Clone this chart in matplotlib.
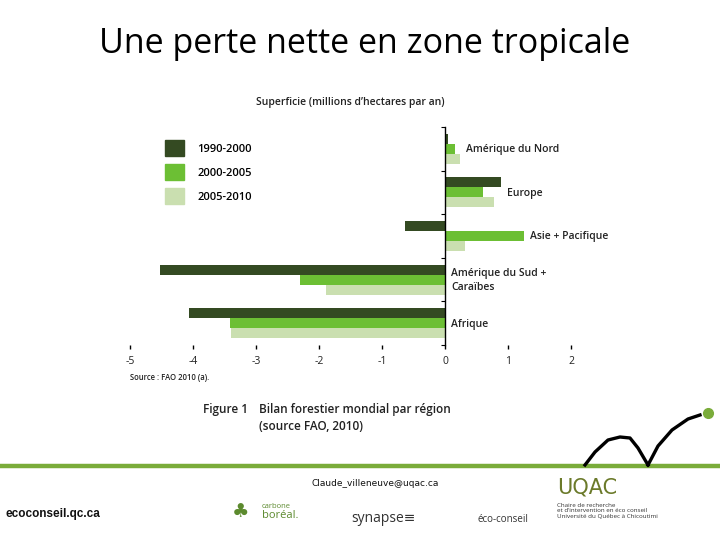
import matplotlib.pyplot as plt
from matplotlib.patches import Patch
import numpy as np

regions = ['Amérique du Nord', 'Europe', 'Asie + Pacifique',
           'Amérique du Sud +\nCaraïbes', 'Afrique']
periods = ['1990-2000', '2000-2005', '2005-2010']
v_1990_2000 = [0.05, 0.89, -0.64, -4.52, -4.06]
v_2000_2005 = [0.16, 0.60, 1.25, -2.30, -3.41]
v_2005_2010 = [0.24, 0.78, 0.31, -1.89, -3.39]
colors = ['#344a22', '#6cbf34', '#cadfb0']
xticks = [-5, -4, -3, -2, -1, 0, 1, 2]

plt.rcParams['font.family'] = ['Open Sans', 'DejaVu Sans']

fig = plt.figure(figsize=(7.2, 5.4), dpi=100)
W, H = 720, 540

def fx(px):
    return px / W

def fy(py):
    return 1 - py / H

# slide title
fig.text(fx(365), fy(44), 'Une perte nette en zone tropicale', ha='center', va='center',
         fontsize=24.5, color='black')

# chart
ax = fig.add_axes([fx(130), fy(345), fx(441), (345 - 127) / H])
series = [v_1990_2000, v_2000_2005, v_2005_2010]
n = len(regions)
centers = np.arange(n) + 0.5
h = 0.23
for k, vals in enumerate(series):
    ax.barh(centers + (k - 1) * h, vals, height=h, color=colors[k], label=periods[k])

for i, lab in enumerate(regions):
    xmax = max(0, v_1990_2000[i], v_2000_2005[i], v_2005_2010[i])
    ax.text(xmax + 0.1, centers[i] + 0.02, lab, ha='left', va='center',
            fontsize=7.5, fontweight='semibold', color='#222222', linespacing=1.3)

ax.set_xlim(-5, 2)
ax.set_ylim(n, 0)
ax.set_xticks(xticks)
ax.set_xticklabels([str(t) for t in xticks], fontsize=7.5, color='#222222')
ax.set_yticks(np.arange(n + 1))
ax.set_yticklabels([])
for s in ['top', 'right', 'bottom']:
    ax.spines[s].set_visible(False)
ax.spines['left'].set_position(('data', 0))
ax.spines['left'].set_linewidth(1.0)
ax.tick_params(axis='x', length=3, width=1, pad=5, direction='out')
ax.tick_params(axis='y', length=3, width=0.8, direction='out')

fig.text(fx(350), fy(103), 'Superficie (millions d\u2019hectares par an)', ha='center',
         va='center', fontsize=7.5, fontweight='semibold', color='#222222')

handles = [Patch(color=c) for c in colors]
fig.legend(handles, periods, loc='upper left', bbox_to_anchor=(fx(155), fy(130)),
           frameon=False, handlelength=1.7, handleheight=1.9, labelspacing=0.68,
           handletextpad=1.2, prop={'size': 8, 'weight': 'semibold'})

fig.text(fx(130), fy(377), 'Source : FAO 2010 (a).', ha='left', va='center',
         fontsize=5.5, fontweight='semibold', color='#222222')
fig.text(fx(203), fy(410), 'Figure 1', ha='left', va='center', fontsize=8.5,
         fontweight='semibold', color='#222222')
fig.text(fx(259), fy(410), 'Bilan forestier mondial par région', ha='left', va='center',
         fontsize=8.5, fontweight='semibold', color='#222222')
fig.text(fx(259), fy(427), '(source FAO, 2010)', ha='left', va='center', fontsize=8.5,
         fontweight='semibold', color='#222222')

# footer decoration
deco = fig.add_axes([0, 0, 1, 1], facecolor='none')
deco.set_xlim(0, W)
deco.set_ylim(H, 0)
deco.axis('off')
deco.plot([0, W], [466, 466], color='#7aac3a', lw=3.2, solid_capstyle='butt')
deco.plot([585, 595, 608, 620, 630, 638, 648], [465, 452, 440, 437, 438, 448, 465],
          color='black', lw=2.4)
deco.plot([648, 658, 672, 688, 700], [465, 446, 430, 419, 415], color='black', lw=2.4)
deco.plot([708], [413], 'o', color='#7aac3a', ms=7)

fig.text(fx(375), fy(484), 'Claude_villeneuve@uqac.ca', ha='center', va='center',
         fontsize=6.5, family='Liberation Sans Narrow', color='#111111')
fig.text(fx(5), fy(514), 'ecoconseil.qc.ca', ha='left', va='center', fontsize=8.5,
         family='Liberation Sans', fontweight='bold', color='#111111')
fig.text(fx(232), fy(512), '\u2663', ha='left', va='center', fontsize=14,
         color='#5c8a2e', family='DejaVu Sans')
fig.text(fx(262), fy(506), 'carbone', ha='left', va='center', fontsize=5.5,
         color='#5c8a2e')
fig.text(fx(262), fy(516), 'boréal.', ha='left', va='center', fontsize=8,
         color='#5c8a2e')
fig.text(fx(351), fy(518), 'synapse\u2261', ha='left', va='center', fontsize=10,
         color='#333333')
fig.text(fx(477), fy(520), 'éco-conseil', ha='left', va='center', fontsize=7,
         color='#333333')
fig.text(fx(557), fy(487), 'UQAC', ha='left', va='center', fontsize=15,
         color='#6b7a2a', family='Liberation Sans Narrow')
fig.text(fx(557), fy(511), 'Chaire de recherche\net d\u2019intervention en éco conseil\n'
         'Université du Québec à Chicoutimi', ha='left', va='center', fontsize=4.5,
         color='#333333', linespacing=1.1)

fig.savefig('out.png', dpi=100)
